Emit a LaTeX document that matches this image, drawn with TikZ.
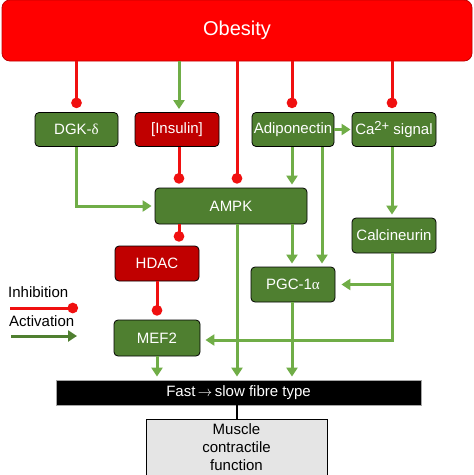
\documentclass[tikz,border=0pt]{standalone}
\usepackage{fontspec}
\setmainfont{Liberation Sans}
\newfontfamily\grk{Liberation Serif}
\usetikzlibrary{arrows.meta,calc}
\definecolor{boxgreen}{HTML}{4F7F30}
\definecolor{arrgreen}{HTML}{70AD47}
\definecolor{darkred}{HTML}{C00000}
\definecolor{obred}{HTML}{FF0000}
\definecolor{inhred}{HTML}{F01010}
\begin{document}
\begin{tikzpicture}[x=1pt,y=-1pt,
  gbox/.style={draw=black, fill=boxgreen, rounded corners=4pt, text=white,
    font=\fontsize{15}{17}\selectfont, inner sep=0pt, line width=0.8pt},
  rbox/.style={gbox, fill=darkred},
  inh/.style={draw=inhred, line width=3pt, -{Circle[length=10.5pt]}, shorten >=4pt},
  act/.style={draw=arrgreen, line width=3pt, -{Triangle[length=9pt,width=11pt]}, shorten >=3pt},
  lbl/.style={font=\fontsize{15}{17}\selectfont, inner sep=0pt}]
\useasboundingbox (0,0) rectangle (474,475);
% nodes
\node[draw=darkred, fill=obred, rounded corners=8pt, line width=0.8pt, minimum width=470pt, minimum height=61pt,
  text=white, font=\fontsize{20}{22}\selectfont] (obesity) at (237,30.5) {Obesity};
\node[gbox, minimum width=83pt, minimum height=34pt] (dgk) at (76.5,129.5) {DGK-{\grk δ}};
\node[rbox, minimum width=84pt, minimum height=34pt] (insulin) at (177,129.5) {[Insulin]};
\node[gbox, minimum width=82pt, minimum height=34pt] (adipo) at (293,129.5) {Adiponectin};
\node[gbox, minimum width=84pt, minimum height=34pt] (ca) at (394,129.5) {Ca{\fontsize{13}{15}\selectfont\raisebox{0.45ex}{2+}} signal};
\node[gbox, minimum width=152pt, minimum height=36pt] (ampk) at (231,206) {AMPK};
\node[gbox, minimum width=84pt, minimum height=35pt] (calc) at (394,235.5) {Calcineurin};
\node[rbox, minimum width=84pt, minimum height=35pt] (hdac) at (157,263.5) {HDAC};
\node[gbox, minimum width=84pt, minimum height=35pt] (pgc) at (293,284.5) {PGC-1{\grk α}};
\node[gbox, minimum width=86pt, minimum height=36pt] (mef) at (157,338) {MEF2};
\node[draw=gray!70, fill=black, line width=0.8pt, minimum width=365pt, minimum height=25pt, inner sep=0pt,
  text=white, font=\fontsize{15}{17}\selectfont] (fibre) at (238.5,392.5) {Fast\,$\rightarrow$\,slow fibre type};
\node[draw=black, fill=black!10, line width=1pt, minimum width=181pt, minimum height=56pt, inner sep=0pt,
  font=\fontsize{15}{18}\selectfont, align=center] (muscle) at (236.5,447) {Muscle\\contractile\\function};
% helper x positions
\coordinate (x179) at (179,0);
\coordinate (x237) at (237,0);
\coordinate (x292) at (292,0);
\coordinate (x322) at (322,0);
\coordinate (x392) at (392,0);
% connectors from Obesity
\draw[inh] (obesity.south -| dgk) -- (dgk.north);
\draw[act] (obesity.south -| x179) -- (insulin.north -| x179);
\draw[inh] (obesity.south -| x237) -- (ampk.north -| x237);
\draw[inh] (obesity.south -| x292) -- (adipo.north -| x292);
\draw[inh] (obesity.south -| x392) -- (ca.north -| x392);
% second row
\draw[act, shorten >=1pt] (adipo.east) -- (ca.west);
\draw[act] (dgk.south) |- (ampk.west);
\draw[inh] (insulin.south -| x179) -- (ampk.north -| x179);
\draw[act] (adipo.south -| x292) -- (ampk.north -| x292);
\draw[act] (adipo.south -| x322) -- (pgc.north -| x322);
\draw[act] (ca.south -| x392) -- (calc.north -| x392);
% from AMPK
\draw[inh] (ampk.south -| x179) -- (hdac.north -| x179);
\draw[act] (ampk.south -| x292) -- (pgc.north -| x292);
\draw[act] (ampk.south -| x237) -- (fibre.north -| x237);
% lower
\draw[inh] (hdac.south) -- (mef.north);
\coordinate (cturn) at (392,340);
\draw[act, shorten >=5pt] (calc.south -| x392) -- (cturn) -- (mef.east |- cturn);
\draw[act, shorten >=6pt] (x392 |- pgc.east) -- (pgc.east);
\draw[act] (mef.south) -- (fibre.north -| mef);
\draw[act] (pgc.south -| x292) -- (fibre.north -| x292);
\draw[line width=1.5pt] (fibre.south -| x237) -- (muscle.north -| x237);
% legend
\node[lbl, anchor=west] (linh) at (8,292.5) {Inhibition};
\node[lbl, anchor=west] (lact) at (9,321) {Activation};
\coordinate (la) at (10,308);
\coordinate (lb) at (78,308);
\coordinate (lc) at (11,336);
\coordinate (ld) at (77,336);
\draw[inh, shorten >=0pt] (la) -- (lb);
\draw[act, draw=boxgreen, shorten >=0pt] (lc) -- (ld);
\end{tikzpicture}
\end{document}
